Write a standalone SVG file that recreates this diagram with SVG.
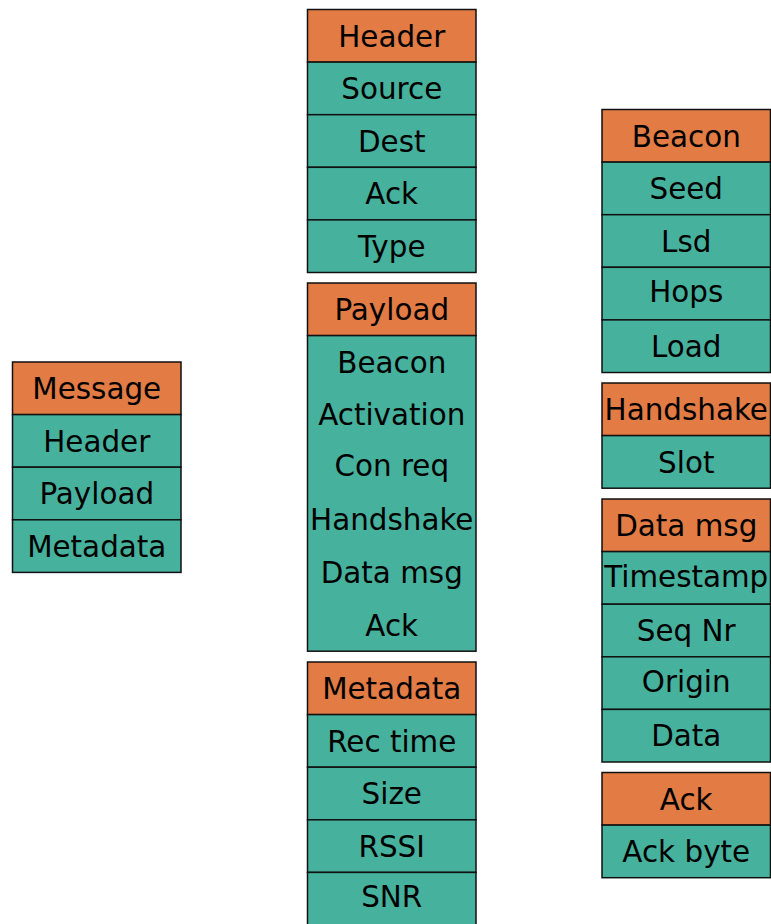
<svg xmlns="http://www.w3.org/2000/svg" width="771" height="924" viewBox="0 0 771 924">
  <style>
    .hd { fill: #e37b44; stroke: #111; stroke-width: 1.5; }
    .fd { fill: #46b29d; stroke: #111; stroke-width: 1.5; }
    text { font-family: "DejaVu Sans", "Liberation Sans", sans-serif; font-size: 29.4px; fill: #000; text-anchor: middle; }
  </style>
  <rect width="771" height="924" fill="#ffffff"/>

  <!-- Message -->
  <g id="message">
    <rect class="hd" x="12.5" y="362" width="168.5" height="52.6"/>
    <rect class="fd" x="12.5" y="414.6" width="168.5" height="52.6"/>
    <rect class="fd" x="12.5" y="467.2" width="168.5" height="52.6"/>
    <rect class="fd" x="12.5" y="519.8" width="168.5" height="52.6"/>
    <text x="96.75" y="399">Message</text>
    <text x="96.75" y="451.6">Header</text>
    <text x="96.75" y="504.2">Payload</text>
    <text x="96.75" y="556.8">Metadata</text>
  </g>

  <!-- Header -->
  <g id="header">
    <rect class="hd" x="307.5" y="9.5" width="168.5" height="52.6"/>
    <rect class="fd" x="307.5" y="62.1" width="168.5" height="52.6"/>
    <rect class="fd" x="307.5" y="114.7" width="168.5" height="52.6"/>
    <rect class="fd" x="307.5" y="167.3" width="168.5" height="52.6"/>
    <rect class="fd" x="307.5" y="219.9" width="168.5" height="52.6"/>
    <text x="391.75" y="46.5">Header</text>
    <text x="391.75" y="99.1">Source</text>
    <text x="391.75" y="151.7">Dest</text>
    <text x="391.75" y="204.3">Ack</text>
    <text x="391.75" y="256.9">Type</text>
  </g>

  <!-- Payload -->
  <g id="payload">
    <rect class="hd" x="307.5" y="283" width="168.5" height="52.6"/>
    <rect class="fd" x="307.5" y="335.6" width="168.5" height="315.6"/>
    <text x="391.75" y="320">Payload</text>
    <text x="391.75" y="372.6">Beacon</text>
    <text x="391.75" y="425.2">Activation</text>
    <text x="391.75" y="476">Con req</text>
    <text x="391.75" y="530.4">Handshake</text>
    <text x="391.75" y="583">Data msg</text>
    <text x="391.75" y="635.6">Ack</text>
  </g>

  <!-- Metadata -->
  <g id="metadata">
    <rect class="hd" x="307.5" y="662" width="168.5" height="52.6"/>
    <rect class="fd" x="307.5" y="714.6" width="168.5" height="52.6"/>
    <rect class="fd" x="307.5" y="767.2" width="168.5" height="52.6"/>
    <rect class="fd" x="307.5" y="819.8" width="168.5" height="52.6"/>
    <rect class="fd" x="307.5" y="872.4" width="168.5" height="52.6"/>
    <text x="391.75" y="699">Metadata</text>
    <text x="391.75" y="751.6">Rec time</text>
    <text x="391.75" y="804.2">Size</text>
    <text x="391.75" y="856.8">RSSI</text>
    <text x="391.75" y="907">SNR</text>
  </g>

  <!-- Beacon -->
  <g id="beacon">
    <rect class="hd" x="602" y="109.5" width="168.5" height="52.6"/>
    <rect class="fd" x="602" y="162.1" width="168.5" height="52.6"/>
    <rect class="fd" x="602" y="214.7" width="168.5" height="52.6"/>
    <rect class="fd" x="602" y="267.3" width="168.5" height="52.6"/>
    <rect class="fd" x="602" y="319.9" width="168.5" height="52.6"/>
    <text x="686.25" y="146.5">Beacon</text>
    <text x="686.25" y="199.1">Seed</text>
    <text x="686.25" y="251.7">Lsd</text>
    <text x="686.25" y="302.3">Hops</text>
    <text x="686.25" y="356.9">Load</text>
  </g>

  <!-- Handshake -->
  <g id="handshake">
    <rect class="hd" x="602" y="383" width="168.5" height="52.6"/>
    <rect class="fd" x="602" y="435.6" width="168.5" height="52.6"/>
    <text x="686.25" y="420">Handshake</text>
    <text x="686.25" y="472.6">Slot</text>
  </g>

  <!-- Data msg -->
  <g id="data-msg">
    <rect class="hd" x="602" y="499" width="168.5" height="52.6"/>
    <rect class="fd" x="602" y="551.6" width="168.5" height="52.6"/>
    <rect class="fd" x="602" y="604.2" width="168.5" height="52.6"/>
    <rect class="fd" x="602" y="656.8" width="168.5" height="52.6"/>
    <rect class="fd" x="602" y="709.4" width="168.5" height="52.6"/>
    <text x="686.25" y="536">Data msg</text>
    <text x="686.25" y="586.6">Timestamp</text>
    <text x="686.25" y="641.2">Seq Nr</text>
    <text x="686.25" y="691.8">Origin</text>
    <text x="686.25" y="746.4">Data</text>
  </g>

  <!-- Ack -->
  <g id="ack">
    <rect class="hd" x="602" y="772.5" width="168.5" height="52.6"/>
    <rect class="fd" x="602" y="825.1" width="168.5" height="52.6"/>
    <text x="686.25" y="809.5">Ack</text>
    <text x="686.25" y="862.1">Ack byte</text>
  </g>
</svg>
